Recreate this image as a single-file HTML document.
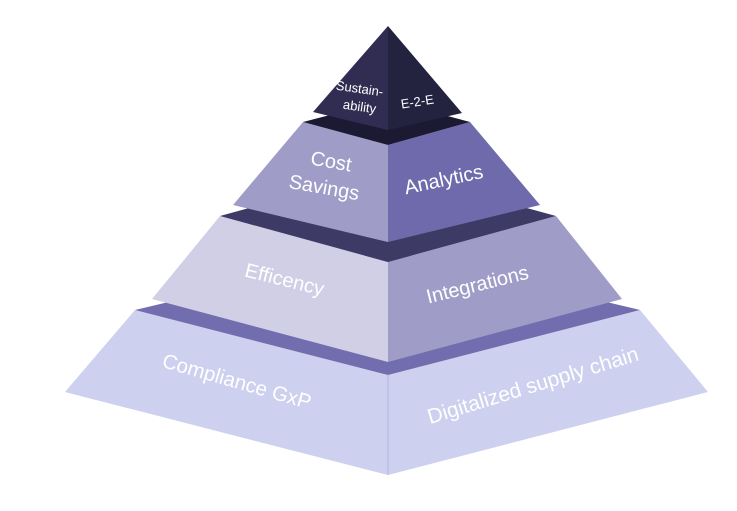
<!DOCTYPE html>
<html><head><meta charset="utf-8"><style>
html,body{margin:0;padding:0;background:#fff;}
svg{display:block;}
text{font-family:"Liberation Sans",sans-serif;fill:#fff;}
</style></head><body>
<svg width="737" height="511" viewBox="0 0 737 511">
<!-- tier 4 -->
<polygon points="135,310 388,375 388,475 65,392" fill="#cdd0ee"/>
<polygon points="388,375 640,310 708,392 388,475" fill="#cdd0ee"/>
<line x1="388" y1="375" x2="388" y2="475" stroke="#b4b8e4" stroke-width="1"/>
<polygon points="135,310 388,250 640,310 388,375" fill="#716dae"/>
<!-- tier 3 -->
<polygon points="220,216 388,262 388,362 152,299" fill="#d0cfe6"/>
<polygon points="388,262 556,216 622,299 388,362" fill="#a09cc8"/>
<polygon points="220,216 388,170 556,216 388,262" fill="#3e3a66"/>
<!-- tier 2 -->
<polygon points="303,122 388,145 388,242 233,205" fill="#a09cc8"/>
<polygon points="388,145 470,122 540,205 388,242" fill="#6f6aac"/>
<polygon points="303,122 388,100 470,122 388,145" fill="#1c1a33"/>
<!-- top -->
<polygon points="388,26 313,112 388,130" fill="#302c52"/>
<polygon points="388,26 388,130 462,113" fill="#23223f"/>
<!-- labels -->
<text x="359" y="93" font-size="13" text-anchor="middle" transform="rotate(8 359 93)">Sustain-</text>
<text x="359" y="111" font-size="13" text-anchor="middle" transform="rotate(8 359 111)">ability</text>
<text x="418" y="106" font-size="13" text-anchor="middle" transform="rotate(-9 418 106)">E-2-E</text>
<text x="330" y="168" font-size="20" text-anchor="middle" transform="rotate(10 330 168)">Cost</text>
<text x="323" y="194" font-size="20" text-anchor="middle" transform="rotate(10 323 194)">Savings</text>
<text x="445" y="186" font-size="20" text-anchor="middle" transform="rotate(-12 445 186)">Analytics</text>
<text x="283" y="286" font-size="20" text-anchor="middle" transform="rotate(14 283 286)">Efficency</text>
<text x="479" y="291" font-size="20" text-anchor="middle" transform="rotate(-14 479 291)">Integrations</text>
<text x="235" y="388" font-size="20.5" text-anchor="middle" transform="rotate(16 235 388)">Compliance GxP</text>
<text x="535" y="392" font-size="21" text-anchor="middle" transform="rotate(-17 535 392)">Digitalized supply chain</text>
</svg>
</body></html>
